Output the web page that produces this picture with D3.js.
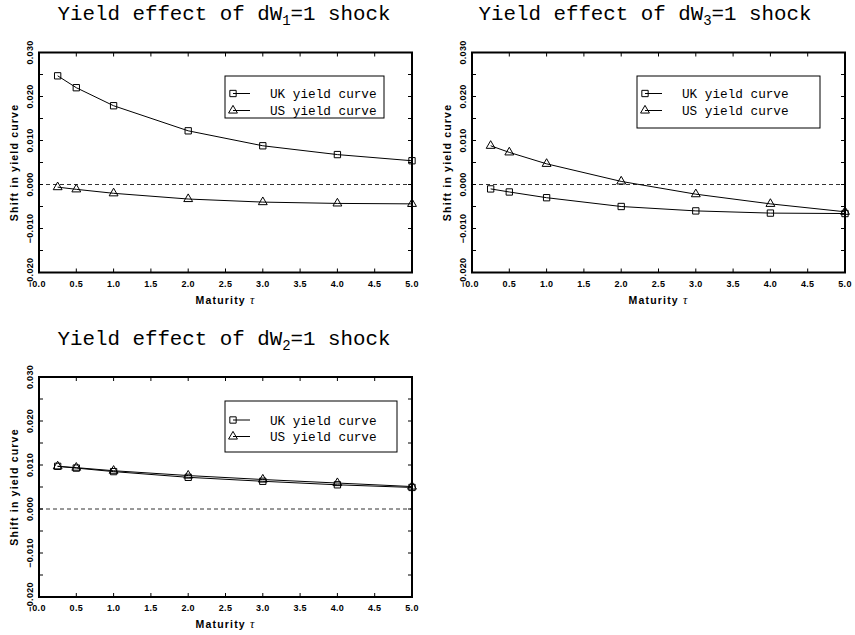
<html>
<head>
  <style>
    body { margin: 0; background: white; }
    .tick-label { font-family: "Liberation Sans", Arial, sans-serif; font-size: 9px; font-weight: bold; letter-spacing: 0.3px; }
    .axis-title { font-family: "Liberation Sans", Arial, sans-serif; font-size: 10.5px; font-weight: bold; letter-spacing: 1.2px; }
    .title { font-family: "Liberation Mono", monospace; font-size: 20.8px; }
    .legend { font-family: "Liberation Mono", monospace; font-size: 12.7px; }
  </style>
  <script src="https://d3js.org/d3.v7.min.js"></script>
</head>
<body>
<script type="text/javascript">
  // maturities (years)
  var maturity = [0.25, 0.5, 1, 2, 3, 4, 5];

  // dW1 = 1 shock
  var ukW1 = [0.0247, 0.0220, 0.0179, 0.0122, 0.0088, 0.0068, 0.0054];
  var usW1 = [-0.0006, -0.0011, -0.0020, -0.0033, -0.0040, -0.0043, -0.0044];
  // dW3 = 1 shock
  var ukW3 = [-0.0010, -0.0017, -0.0030, -0.0050, -0.0060, -0.0065, -0.0066];
  var usW3 = [0.0088, 0.0073, 0.0047, 0.0007, -0.0022, -0.0044, -0.0062];
  // dW2 = 1 shock
  var ukW2 = [0.0097, 0.0093, 0.0085, 0.0072, 0.0063, 0.0055, 0.0049];
  var usW2 = [0.0097, 0.0094, 0.0087, 0.0076, 0.0067, 0.0059, 0.0051];

  var seriesNames = ["UK yield curve", "US yield curve"];
  var yLabelTicks = [-0.02, -0.01, 0.0, 0.01, 0.02, 0.03];
  var xLabelTicks = [0, 0.5, 1, 1.5, 2, 2.5, 3, 3.5, 4, 4.5, 5];

  var panels = [
    {sub: "1", uk: ukW1, us: usW1, left: 39, top: 52.5, titleX: 224, titleY: 20,
     legend: {x: 225, y: 76, w: 159, h: 42, l1: 93.5, l2: 110.5}},
    {sub: "3", uk: ukW3, us: usW3, left: 472, top: 52.5, titleX: 645, titleY: 20,
     legend: {x: 637, y: 76, w: 183, h: 52, l1: 93.5, l2: 110.5}},
    {sub: "2", uk: ukW2, us: usW2, left: 39, top: 377, titleX: 224, titleY: 345,
     legend: {x: 225, y: 401, w: 172, h: 51, l1: 420, l2: 436.5}}
  ];

  var pw = 373, ph = 220;

  var svg = d3.select("body").append("svg")
    .attr("width", 855)
    .attr("height", 635);

  var fmtY = function(v) {
    var s = Math.abs(v).toFixed(3);
    return (v < -1e-9 ? "\u2212" : "") + s;
  };

  panels.forEach(function(p) {
    var xScale = d3.scaleLinear().domain([0, 5]).range([p.left, p.left + pw]);
    var yScale = d3.scaleLinear().domain([-0.02, 0.03]).range([p.top + ph, p.top]);
    var g = svg.append("g");

    // title
    var t = g.append("text").attr("class", "title")
      .attr("x", p.titleX).attr("y", p.titleY)
      .attr("text-anchor", "middle");
    t.append("tspan").text("Yield effect of dW");
    t.append("tspan").attr("dy", 5).style("font-size", "14px").text(p.sub);
    t.append("tspan").attr("dy", -5).text("=1 shock");

    // zero line
    g.append("line")
      .attr("x1", xScale(0)).attr("x2", xScale(5))
      .attr("y1", yScale(0)).attr("y2", yScale(0))
      .attr("stroke", "#333").attr("stroke-width", 1)
      .attr("stroke-dasharray", "4,3");

    // ticks (inward)
    var yTicks = d3.range(-0.02, 0.0301, 0.005);
    yTicks.forEach(function(v) {
      g.append("line").attr("x1", xScale(0)).attr("x2", xScale(0) + 4)
        .attr("y1", yScale(v)).attr("y2", yScale(v)).attr("stroke", "black");
      g.append("line").attr("x1", xScale(5)).attr("x2", xScale(5) - 4)
        .attr("y1", yScale(v)).attr("y2", yScale(v)).attr("stroke", "black");
    });
    xLabelTicks.forEach(function(v) {
      g.append("line").attr("x1", xScale(v)).attr("x2", xScale(v))
        .attr("y1", yScale(-0.02)).attr("y2", yScale(-0.02) - 4).attr("stroke", "black");
      g.append("line").attr("x1", xScale(v)).attr("x2", xScale(v))
        .attr("y1", yScale(0.03)).attr("y2", yScale(0.03) + 4).attr("stroke", "black");
    });

    // tick labels
    yLabelTicks.forEach(function(v) {
      var x = xScale(0) - 6, y = yScale(v);
      g.append("text").attr("class", "tick-label")
        .attr("transform", "translate(" + x + "," + y + ") rotate(-90)")
        .attr("text-anchor", "middle")
        .text(fmtY(v));
    });
    xLabelTicks.forEach(function(v) {
      g.append("text").attr("class", "tick-label")
        .attr("x", xScale(v)).attr("y", yScale(-0.02) + 14)
        .attr("text-anchor", "middle")
        .text(v.toFixed(1));
    });

    // axis titles
    var xt = g.append("text").attr("class", "axis-title")
      .attr("x", (xScale(0) + xScale(5)) / 2).attr("y", yScale(-0.02) + 31)
      .attr("text-anchor", "middle");
    xt.append("tspan").text("Maturity  ");
    xt.append("tspan").style("font-weight", "normal").style("font-style", "italic")
      .style("font-family", "Liberation Serif, serif").style("font-size", "12px").text("\u03c4");

    g.append("text").attr("class", "axis-title")
      .attr("transform", "translate(" + (xScale(0) - 21) + "," + (p.top + ph / 2) + ") rotate(-90)")
      .attr("text-anchor", "middle")
      .text("Shift in yield curve");

    // series
    var line = d3.line()
      .x(function(d, i) { return xScale(maturity[i]); })
      .y(function(d) { return yScale(d); });

    var sq = d3.symbol().type(d3.symbolSquare).size(40);
    var tri = d3.symbol().type(d3.symbolTriangle).size(34);

    [[p.uk, sq], [p.us, tri]].forEach(function(s) {
      g.append("path").datum(s[0])
        .attr("d", line)
        .attr("fill", "none").attr("stroke", "black").attr("stroke-width", 1);
      g.selectAll(null).data(s[0]).enter().append("path")
        .attr("d", s[1])
        .attr("transform", function(d, i) {
          return "translate(" + xScale(maturity[i]) + "," + yScale(d) + ")";
        })
        .attr("fill", "none").attr("stroke", "black").attr("stroke-width", 1);
    });

    // frame
    g.append("rect")
      .attr("x", xScale(0)).attr("y", yScale(0.03))
      .attr("width", pw).attr("height", ph)
      .attr("fill", "none").attr("stroke", "black").attr("stroke-width", 2);

    // legend
    var L = p.legend;
    g.append("rect").attr("x", L.x).attr("y", L.y).attr("width", L.w).attr("height", L.h)
      .attr("fill", "white").attr("stroke", "black").attr("stroke-width", 1);
    [[L.l1, sq, seriesNames[0]], [L.l2, tri, seriesNames[1]]].forEach(function(e) {
      g.append("line").attr("x1", L.x + 8).attr("x2", L.x + 25)
        .attr("y1", e[0]).attr("y2", e[0]).attr("stroke", "black");
      g.append("path").attr("d", e[1])
        .attr("transform", "translate(" + (L.x + 8) + "," + e[0] + ")")
        .attr("fill", "none").attr("stroke", "black");
      g.append("text").attr("class", "legend")
        .attr("x", L.x + 45).attr("y", e[0] + 4.5)
        .text(e[2]);
    });
  });
</script>
</body>
</html>
